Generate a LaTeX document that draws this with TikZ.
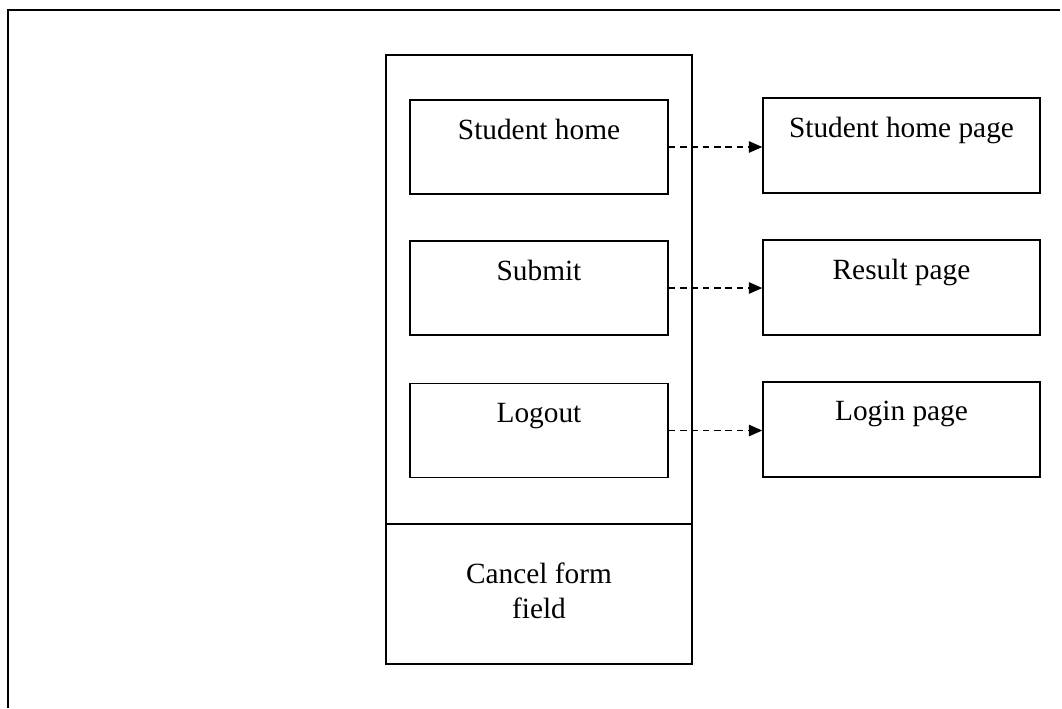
\documentclass[tikz,border=0pt]{standalone}
\usepackage{fontspec}
\setmainfont{Liberation Serif}
\usetikzlibrary{arrows.meta}
\begin{document}
\begin{tikzpicture}[x=0.75pt,y=-0.75pt,
  box/.style={draw=black,line width=1.1pt,rectangle,inner sep=0pt},
  btn/.style={box,minimum width=193.5pt,minimum height=70.5pt},
  page/.style={box,minimum width=207.75pt,minimum height=71.25pt},
  lbl/.style={font=\fontsize{22}{26}\selectfont,anchor=north,inner sep=0pt},
  link/.style={line width=1.1pt,dash pattern=on 5pt off 3.5pt,-{Triangle[length=10pt,width=8.5pt]}}]
\useasboundingbox (0,0) rectangle (1062,708);
\draw[line width=1.4pt] (8,708) -- (8,10) -- (1060,10);
% outer panel
\node[box,minimum width=229.5pt,minimum height=456.75pt] (panel) at (539,359.5) {};
\coordinate (divL) at (386,524);
\coordinate (divR) at (692,524);
\draw[line width=1.1pt] (divL) -- (divR);
\node[lbl,align=center] (cancel) at (539,563) {Cancel form\\field};
% inner buttons
\node[btn] (home) at (539,147) {};
\node[lbl] (homet) at ([yshift=-15pt]home.north) {Student home};
\node[btn] (submit) at (539,288) {};
\node[lbl] (submitt) at ([yshift=-15pt]submit.north) {Submit};
\node[btn] (logout) at (539,430.5) {};
\node[lbl] (logoutt) at ([yshift=-15pt]logout.north) {Logout};
% pages
\node[page] (homep) at (901.5,145.5) {};
\node[lbl] (homept) at ([yshift=-15pt]homep.north) {Student home page};
\node[page] (result) at (901.5,287.5) {};
\node[lbl] (resultt) at ([yshift=-15pt]result.north) {Result page};
\node[page] (login) at (901.5,429.5) {};
\node[lbl] (logint) at ([yshift=-15pt]login.north) {Login page};
% links
\draw[link] (home.east) -- (home.east -| homep.west);
\draw[link] (submit.east) -- (submit.east -| result.west);
\draw[link] (logout.east) -- (logout.east -| login.west);
\end{tikzpicture}
\end{document}
